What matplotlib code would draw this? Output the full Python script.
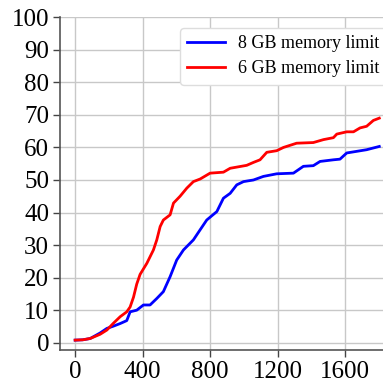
import matplotlib.pyplot as plt

# Time axis samples and accuracy (%) for the two memory limits
t_8gb = [0, 45, 89, 148, 188, 227, 267, 306, 326, 365, 405, 444, 484, 523, 563,
         602, 642, 701, 741, 780, 840, 879, 919, 958, 998, 1057, 1116, 1195,
         1294, 1353, 1412, 1452, 1531, 1570, 1610, 1669, 1728, 1803]
acc_8gb = [0.8, 0.9, 1.3, 3.0, 4.4, 5.1, 5.9, 6.8, 9.5, 10.0, 11.6, 11.6, 13.6,
           15.7, 20.3, 25.4, 28.5, 31.6, 34.7, 37.7, 40.3, 44.4, 45.9, 48.5,
           49.5, 50.0, 51.1, 51.9, 52.1, 54.2, 54.4, 55.7, 56.2, 56.4, 58.3,
           58.8, 59.3, 60.3]

t_6gb = [0, 45, 89, 148, 188, 227, 267, 306, 326, 346, 365, 385, 425, 464, 484,
         504, 523, 563, 583, 622, 662, 701, 741, 800, 879, 919, 1017, 1057,
         1096, 1136, 1195, 1235, 1313, 1412, 1472, 1531, 1551, 1610, 1650,
         1689, 1728, 1768, 1803]
acc_6gb = [0.8, 0.9, 1.3, 2.6, 3.9, 6.0, 8.0, 9.5, 11.0, 14.0, 18.0, 21.0, 24.4,
           28.5, 31.6, 35.7, 37.7, 39.3, 42.9, 45.0, 47.5, 49.5, 50.3, 52.1,
           52.4, 53.6, 54.5, 55.4, 56.2, 58.5, 59.0, 60.0, 61.3, 61.5, 62.4,
           63.0, 64.1, 64.8, 64.8, 66.0, 66.5, 68.3, 69.0]

x_ticks = [0, 400, 800, 1200, 1600]
y_ticks = list(range(0, 101, 10))

plt.rcParams['font.family'] = ['Liberation Serif', 'DejaVu Serif']

fig = plt.figure(figsize=(3.83, 3.83), dpi=100)
ax = fig.add_axes([0.157, 0.086, 0.843, 0.869])

ax.plot(t_8gb, acc_8gb, color='blue', linewidth=2, label='8 GB memory limit')
ax.plot(t_6gb, acc_6gb, color='red', linewidth=2, label='6 GB memory limit')

ax.set_xlim(-89, 1825)
ax.set_ylim(-2.25, 100)
ax.set_xticks(x_ticks)
ax.set_yticks(y_ticks)
ax.tick_params(labelsize=18, length=5, width=1, color='#444444', pad=3)
ax.grid(True, color='#c8c8c8', linewidth=1)
ax.set_axisbelow(True)

for side in ['top', 'right']:
    ax.spines[side].set_visible(False)
for side in ['left', 'bottom']:
    ax.spines[side].set_color('#555555')
    ax.spines[side].set_linewidth(1.2)

# legend box runs off the right edge of the figure
ax.legend(loc='upper left', fontsize=13, frameon=True, edgecolor='#dddddd',
          framealpha=1, fancybox=True, handlelength=2.1, handletextpad=0.7,
          borderpad=0.4, labelspacing=0.45, borderaxespad=0,
          bbox_to_anchor=(0.470, 0.927), bbox_transform=fig.transFigure)

fig.savefig('out.png', dpi=100)
